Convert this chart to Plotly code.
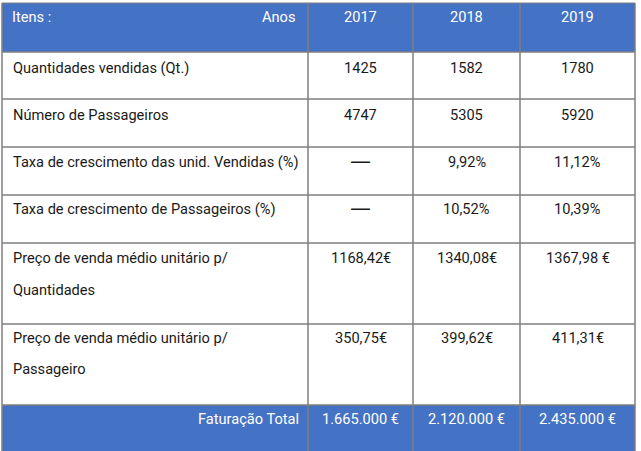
import plotly.graph_objects as go

# ---- data ----
header_left = "Itens :"
header_right = "Anos"
years = ["2017", "2018", "2019"]
items = [
    "Quantidades vendidas (Qt.)",
    "Número de Passageiros",
    "Taxa de crescimento das unid. Vendidas (%)",
    "Taxa de crescimento de Passageiros (%)",
    "Preço de venda médio unitário p/\nQuantidades",
    "Preço de venda médio unitário p/\nPassageiro",
]
NONE = "\u2014"
values_2017 = ["1425", "4747", NONE, NONE, "1168,42€", "350,75€"]
values_2018 = ["1582", "5305", "9,92%", "10,52%", "1340,08€", "399,62€"]
values_2019 = ["1780", "5920", "11,12%", "10,39%", "1367,98 €", "411,31€"]
total_label = "Faturação Total"
totals = ["1.665.000 €", "2.120.000 €", "2.435.000 €"]

# ---- layout constants ----
W, H = 641, 451
col_edges = [2, 308, 413, 520, 635]
row_edges = [3, 52, 99, 147, 195, 243, 324, 405, 470]
text_offset = [14, 16, 16, 14.5, 14, 15, 13.5, 13.5]
line_gap = 31.5
BLUE = "#4472C4"
GRID = "#7f7f7f"
FONT = "Roboto, Liberation Sans, sans-serif"
FS = 14.6

shapes = []
annotations = []

n_rows = len(row_edges) - 1
for r in range(n_rows):
    fill = BLUE if r == 0 or r == n_rows - 1 else "white"
    shapes.append(dict(type="rect", xref="x", yref="y",
                       x0=col_edges[0], x1=col_edges[-1],
                       y0=row_edges[r], y1=row_edges[r + 1],
                       fillcolor=fill, line=dict(width=0), layer="below"))

# grid lines
for y in row_edges[1:-1]:
    shapes.append(dict(type="line", xref="x", yref="y", x0=col_edges[0], x1=col_edges[-1],
                       y0=y, y1=y, line=dict(color=GRID, width=1.5)))
for x in col_edges:
    shapes.append(dict(type="line", xref="x", yref="y", x0=x, x1=x,
                       y0=row_edges[0], y1=row_edges[-1], line=dict(color=GRID, width=1.5)))
shapes.append(dict(type="line", xref="x", yref="y", x0=col_edges[0], x1=col_edges[-1],
                   y0=row_edges[0], y1=row_edges[0], line=dict(color=GRID, width=1)))


def add_text(text, x, y, xanchor, color="#1a1a1a"):
    fam, size = FONT, FS
    if text == NONE:
        fam, size = "DejaVu Sans", 21
        y = y - 1
    annotations.append(dict(text=text, x=x, y=y, xref="x", yref="y",
                            xanchor=xanchor, yanchor="middle", showarrow=False,
                            font=dict(family=fam, size=size, color=color)))


pad_l = 9
pad_r = 9

# header
yh = row_edges[0] + text_offset[0]
add_text(header_left, col_edges[0] + pad_l - 1, yh, "left", "white")
add_text(header_right, col_edges[1] - pad_r - 2, yh, "right", "white")
for c, yr in enumerate(years):
    add_text(yr, (col_edges[c + 1] + col_edges[c + 2]) / 2, yh, "center", "white")

# body
cols = [values_2017, values_2018, values_2019]
for i, item in enumerate(items):
    r = i + 1
    y0 = row_edges[r] + text_offset[r]
    for k, line in enumerate(item.split("\n")):
        add_text(line, col_edges[0] + pad_l, y0 + k * line_gap, "left")
    for c, vals in enumerate(cols):
        add_text(vals[i], (col_edges[c + 1] + col_edges[c + 2]) / 2, y0, "center")

# footer
rf = n_rows - 1
yf = row_edges[rf] + text_offset[rf]
add_text(total_label, col_edges[1] - 7, yf, "right", "white")
for c, t in enumerate(totals):
    add_text(t, (col_edges[c + 1] + col_edges[c + 2]) / 2, yf, "center", "white")

fig = go.Figure()
fig.add_trace(go.Scatter(x=[0, W], y=[0, H], mode="markers", marker=dict(opacity=0),
                         hoverinfo="skip", showlegend=False))
fig.update_layout(
    width=W, height=H,
    margin=dict(l=0, r=0, t=0, b=0),
    paper_bgcolor="white", plot_bgcolor="white",
    xaxis=dict(range=[0, W], visible=False, fixedrange=True),
    yaxis=dict(range=[H, 0], visible=False, fixedrange=True),
    shapes=shapes, annotations=annotations,
    showlegend=False,
)
fig.write_html("out.html", config={"displayModeBar": False},
               post_script="document.body.style.margin='0';document.body.style.overflow='hidden';")
